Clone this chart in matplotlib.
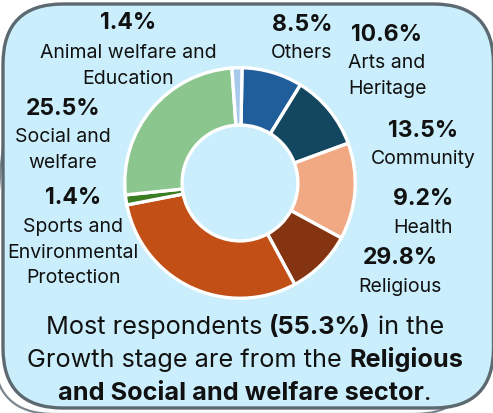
import matplotlib
matplotlib.use("Agg")
import matplotlib.pyplot as plt
from matplotlib.patches import FancyBboxPatch

# Sector shares of respondents in the Growth stage (percent)
categories = ["Others", "Arts and Heritage", "Community", "Health", "Religious",
              "Sports and Environmental Protection", "Social and welfare",
              "Animal welfare and Education"]
shares = [8.5, 10.6, 13.5, 9.2, 29.8, 1.4, 25.5, 1.4]
label_lines = [["Others"], ["Arts and", "Heritage"], ["Community"], ["Health"],
               ["Religious"], ["Sports and", "Environmental", "Protection"],
               ["Social and", "welfare"], ["Animal welfare and", "Education"]]
colors = ["#1F5E9B", "#134760", "#F1A983", "#843410", "#C24F15",
          "#3B7D23", "#8CC68F", "#A6C9EC"]

# Summary sentence, split into runs: (text, bold, space before)
summary_lines = [
    [("Most respondents", False, False), ("(55.3%)", True, True), ("in the", False, True)],
    [("Growth stage are from the", False, False), ("Religious", True, True)],
    [("and Social and welfare sector", True, False), (".", False, False)],
]

FONT = ["Inter", "DejaVu Sans"]
W, H = 493, 413
BG = "#CAEEFB"
EDGE = "#5D6971"

fig = plt.figure(figsize=(W / 100, H / 100), dpi=100)
fig.patch.set_facecolor("white")

# Pixel-space canvas for the card, labels and summary text
bg = fig.add_axes([0, 0, 1, 1])
bg.set_xlim(0, W)
bg.set_ylim(H, 0)
bg.axis("off")

shadow = FancyBboxPatch((-6, 20), 480, 394, boxstyle="round,pad=0,rounding_size=60",
                        facecolor="none", edgecolor="#7B868E", linewidth=1.6, zorder=1)
bg.add_patch(shadow)
card = FancyBboxPatch((3, 4), 490.5, 404, boxstyle="round,pad=0,rounding_size=60",
                      facecolor=BG, edgecolor=EDGE, linewidth=2.4, zorder=2)
bg.add_patch(card)

# Donut chart
cx, cy, R = 240, 183, 117
pie_ax = fig.add_axes([(cx - R) / W, 1 - (cy + R) / H, 2 * R / W, 2 * R / H])
wedges, _ = pie_ax.pie(shares, colors=colors, startangle=89, counterclock=False,
                       radius=0.985, wedgeprops=dict(width=0.49, edgecolor="white",
                                                     linewidth=2.4))
for w in wedges:
    w.set_clip_on(False)
pie_ax.set_xlim(-1, 1)
pie_ax.set_ylim(-1, 1)
pie_ax.axis("off")

# Label anchors: (x, y of percentage, y of first name line)
label_pos = [(302, 25, 53), (387, 35, 63), (423, 131, 159), (423, 199, 228),
             (400, 258, 287), (73, 198, 227), (63, 109, 137), (128, 23, 53)]
line_step = 25.5
for val, lines, (x, yp, yl) in zip(shares, label_lines, label_pos):
    bg.text(x, yp, f"{val:.1f}%", ha="center", va="center", fontsize=16.5,
            fontweight="bold", family=FONT, color="#111111", zorder=5)
    for i, ln in enumerate(lines):
        bg.text(x, yl + i * line_step, ln, ha="center", va="center", fontsize=14,
                family=FONT, color="#111111", zorder=5)

# Summary text with mixed weights, centred line by line
fig.canvas.draw()
renderer = fig.canvas.get_renderer()
sum_size = 18.2
probe_a = bg.text(0, 0, "aa", fontsize=sum_size, family=FONT)
probe_b = bg.text(0, 0, "a a", fontsize=sum_size, family=FONT)
space_w = (probe_b.get_window_extent(renderer).width
           - probe_a.get_window_extent(renderer).width)
probe_a.remove()
probe_b.remove()

baselines = [334, 367, 400]
for runs, yb in zip(summary_lines, baselines):
    objs, total = [], 0.0
    for text, bold, sp in runs:
        t = bg.text(0, yb, text, fontsize=sum_size, family=FONT,
                    fontweight="bold" if bold else "normal", ha="left",
                    va="baseline", color="#111111", zorder=5)
        wdt = t.get_window_extent(renderer).width
        gap = space_w if sp else 0.0
        objs.append((t, gap, wdt))
        total += gap + wdt
    x = 245 - total / 2
    for t, gap, wdt in objs:
        x += gap
        t.set_x(x)
        x += wdt

fig.savefig("out.png", dpi=100, facecolor="white")
